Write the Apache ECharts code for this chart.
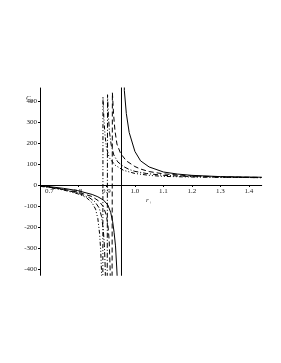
<!DOCTYPE html>
<html><head><meta charset="utf-8">
<script src="https://cdn.jsdelivr.net/npm/echarts@6/dist/echarts.min.js"></script>
<style>html,body{margin:0;padding:0;background:#fff}#c{width:281px;height:363px}</style>
</head><body><div id="c"></div>
<script>
// Tick labels
const xTicks = [0.7, 0.8, 0.9, 1.0, 1.1, 1.2, 1.3, 1.4];
const yTicks = [-400, -300, -200, -100, 0, 100, 200, 300, 400];

// Series values [r+, Cp] (branches joined across the pole, as in the original)
const solidCurve = [[0.667,-4],[0.7,-8],[0.75,-16],[0.8,-27],[0.85,-45],[0.87,-56],[0.89,-72],[0.905,-95],[0.915,-130],[0.922,-175],[0.927,-225],[0.932,-290],[0.9365,-400],[0.94,-500],[0.953,-3000],[0.953,3000],[0.963,450],[0.97,340],[0.98,250],[1.0,160],[1.02,115],[1.05,86],[1.1,62],[1.15,52],[1.2,46],[1.3,40],[1.445,37]];
const dashCurve = [[0.667,-5],[0.7,-10],[0.75,-20],[0.8,-34],[0.85,-55],[0.875,-78],[0.89,-105],[0.9,-145],[0.906,-200],[0.91,-270],[0.913,-400],[0.915,-600],[0.917,-3000],[0.921,440],[0.925,340],[0.93,260],[0.937,195],[0.95,150],[0.97,115],[1.0,88],[1.02,76],[1.05,64],[1.1,53],[1.2,43],[1.3,39],[1.445,36]];
const dashDotCurve = [[0.667,-5],[0.7,-11],[0.75,-22],[0.8,-38],[0.84,-60],[0.86,-80],[0.875,-110],[0.883,-150],[0.889,-210],[0.893,-290],[0.896,-400],[0.898,-600],[0.9,-3000],[0.904,430],[0.907,330],[0.911,250],[0.917,190],[0.926,143],[0.94,110],[0.96,88],[0.98,74],[1.0,65],[1.04,55],[1.1,46],[1.2,40],[1.3,37],[1.445,35]];
const dashDotDotCurve = [[0.667,-6],[0.7,-12],[0.75,-24],[0.8,-42],[0.83,-60],[0.85,-85],[0.862,-115],[0.87,-160],[0.876,-230],[0.88,-310],[0.883,-420],[0.885,-600],[0.886,-3000],[0.888,420],[0.891,320],[0.895,240],[0.9,180],[0.91,130],[0.93,95],[0.96,70],[1.0,55],[1.05,46],[1.1,41],[1.2,38],[1.445,35]];

const chart = echarts.init(document.getElementById('c'), null, {renderer:'canvas'});
const font = 'Liberation Serif';
const lbl = {color:'#222', fontSize:7, fontFamily:font};
function mk(name, data, type){
  return {name, type:'line', data, symbol:'none', clip:true, smooth:false,
    lineStyle:{color:'#000', width:1, type}, animation:false};
}
const gTop = 88, gBottom = 87.7, yMin = -430, yMax = 462;
const plotH = 363 - gTop - gBottom;
const zeroOffset = -plotH * (0 - yMin) / (yMax - yMin);
chart.setOption({
  animation:false,
  grid:{left:40, right:19.3, top:gTop, bottom:gBottom},
  xAxis:{type:'value', min:0.667, max:1.445, offset:zeroOffset,
    axisLine:{onZero:false, lineStyle:{color:'#000', width:1}},
    axisTick:{show:true, length:2, customValues:xTicks, lineStyle:{color:'#000'}},
    axisLabel:{...lbl, margin:3, customValues:xTicks, formatter:v=>Number(v).toFixed(1)},
    splitLine:{show:false}},
  yAxis:{type:'value', min:yMin, max:yMax,
    axisLine:{show:true, lineStyle:{color:'#000', width:1}},
    axisTick:{show:true, length:2, customValues:yTicks, lineStyle:{color:'#000'}},
    axisLabel:{...lbl, margin:3, customValues:yTicks},
    splitLine:{show:false}},
  graphic:[
    {type:'text', left:26, top:95, style:{text:'{a|C}{b|p}', rich:{a:{fontSize:7, fontStyle:'italic', fontFamily:font, fill:'#222'}, b:{fontSize:5, fontStyle:'italic', fontFamily:font, fill:'#222', padding:[4,0,0,0]}}}},
    {type:'text', left:146, top:197, style:{text:'{a|r}{b|+}', rich:{a:{fontSize:7, fontStyle:'italic', fontFamily:font, fill:'#222'}, b:{fontSize:5, fontFamily:font, fill:'#222', padding:[4,0,0,0]}}}}
  ],
  series:[
    mk('solid', solidCurve, 'solid'),
    mk('dash', dashCurve, [5,3]),
    mk('dashdot', dashDotCurve, [5,2,1,2]),
    mk('dashdotdot', dashDotDotCurve, [4,2,1,2,1,2])
  ]
});
</script></body></html>
